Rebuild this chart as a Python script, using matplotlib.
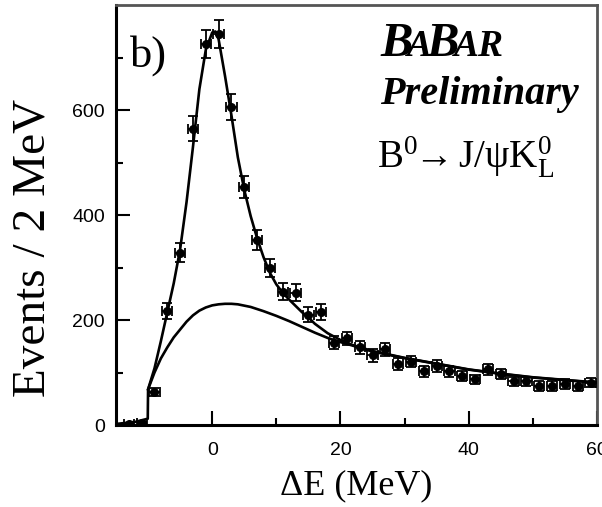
import matplotlib
matplotlib.use("Agg")
import matplotlib.pyplot as plt
from matplotlib.ticker import FixedLocator
from matplotlib.offsetbox import TextArea, HPacker, AnchoredOffsetbox

plt.rcParams['mathtext.fontset'] = 'custom'
plt.rcParams['mathtext.rm'] = 'Liberation Serif'
plt.rcParams['mathtext.it'] = 'Liberation Serif:italic'

# binned data, 2 MeV bins
bin_centres = [-13, -11, -9, -7, -5, -3, -1, 1, 3, 5, 7, 9, 11, 13, 15, 17, 19, 21, 23, 25,
               27, 29, 31, 33, 35, 37, 39, 41, 43, 45, 47, 49, 51, 53, 55, 57, 59]
events = [2, 4, 63, 217, 328, 565, 726, 745, 606, 453, 353, 300, 254, 252, 210, 216, 157, 165, 148, 133,
          144, 116, 121, 102, 112, 102, 93, 87, 106, 97, 83, 83, 74, 74, 78, 74, 81]
errors = [1.5, 2, 8, 15, 18, 24, 27, 27, 25, 21, 19, 17, 16, 16, 14, 15, 13, 13, 12, 12,
          12, 11, 11, 10, 11, 10, 10, 9, 10, 10, 9, 9, 9, 9, 9, 9, 9]

# fit: signal + background
fit_x = [-15, -12, -10.05, -10, -9, -8, -7, -6, -5, -4, -3, -2, -1, 0, 0.5, 1, 2, 3, 4, 5, 6, 7, 8,
         9, 10, 11, 12, 13, 14, 15, 16, 18, 20, 22, 25, 30, 35, 40, 45, 50, 55, 60]
fit_y = [2, 6, 12, 68, 108, 160, 215, 270, 335, 425, 530, 640, 715, 748, 750, 735, 665, 590, 510, 448, 398, 356, 320,
         290, 268, 252, 239, 227, 215, 205, 193, 175, 162, 152, 141, 128, 117, 106, 98, 91, 86, 81]

# background component only
bkg_x = [-10, -9, -8, -7, -6, -5, -4, -3, -2, -1, 0, 1, 2, 3, 4, 6, 8, 10, 12, 14, 16, 18, 20,
         22, 25, 30, 35, 40, 45, 50, 55, 60]
bkg_y = [68, 100, 127, 148, 167, 182, 197, 209, 218, 224, 228, 230, 231, 231, 230, 225, 217, 208, 198, 187, 176, 166, 158,
         151, 140, 127.5, 116.5, 105.5, 97.5, 90.5, 85.5, 80.5]

x_major = [0, 20, 40, 60]
x_minor = [10, 30, 50]
y_major = [0, 200, 400, 600]
y_minor = [100, 300, 500, 700]

fig = plt.figure(figsize=(6.02, 5.07), dpi=100)
ax = fig.add_axes([0.1927, 0.1617, 0.799, 0.828])

ax.plot(fit_x, fit_y, color='black', lw=1.9, zorder=3)
ax.plot(bkg_x, bkg_y, color='black', lw=1.9, zorder=3)
ax.errorbar(bin_centres, events, yerr=errors, xerr=0.8, fmt='o', color='black', ms=5.5,
            elinewidth=1.3, capsize=3.5, capthick=1.3, zorder=4)

ax.set_xlim(-15, 60)
ax.set_ylim(0, 800)
ax.xaxis.set_major_locator(FixedLocator(x_major))
ax.xaxis.set_minor_locator(FixedLocator(x_minor))
ax.yaxis.set_major_locator(FixedLocator(y_major))
ax.yaxis.set_minor_locator(FixedLocator(y_minor))
ax.tick_params(which='both', direction='in', width=1.5, labelsize=14, top=False, right=False)
ax.tick_params(which='major', length=10)
ax.tick_params(which='minor', length=5)
ax.tick_params(axis='x', which='major', pad=12)
ax.tick_params(axis='y', which='major', pad=8)
for lab in ax.get_xticklabels() + ax.get_yticklabels():
    lab.set_family('Liberation Sans')

for s in ['left', 'bottom']:
    ax.spines[s].set_linewidth(2.2)
for s in ['top', 'right']:
    ax.spines[s].set_linewidth(2)
    ax.spines[s].set_color('#555555')

ax.set_xlabel('ΔE (MeV)', fontsize=26, family='Liberation Serif', labelpad=8)
fig.text(0.055, 0.51, 'Events / 2 MeV', rotation=90, ha='center', va='center',
         fontsize=34, family='Liberation Serif')

ax.text(0.03, 0.855, 'b)', transform=ax.transAxes, fontsize=32, family='Liberation Serif')

# experiment logo
logo_parts = [('B', 35), ('A', 27), ('B', 35), ('AR', 27)]
areas = [TextArea(t, textprops=dict(fontsize=fs, family='Liberation Serif', weight='bold', style='italic'))
         for t, fs in logo_parts]
logo = HPacker(children=areas, align='baseline', pad=0, sep=-4)
ax.add_artist(AnchoredOffsetbox(loc='lower left', child=logo, pad=0, borderpad=0, frameon=False,
                                bbox_to_anchor=(0.55, 0.855), bbox_transform=ax.transAxes))

ax.text(0.962, 0.765, 'Preliminary', transform=ax.transAxes, ha='right', fontsize=29,
        family='Liberation Serif', weight='bold', style='italic')
ax.text(0.543, 0.612, r'$\mathrm{B}^{0}\!\!\rightarrow \mathrm{J/\psi K}^{0}_{\mathrm{L}}$', transform=ax.transAxes,
        fontsize=28)

fig.savefig('out.png', dpi=100)
